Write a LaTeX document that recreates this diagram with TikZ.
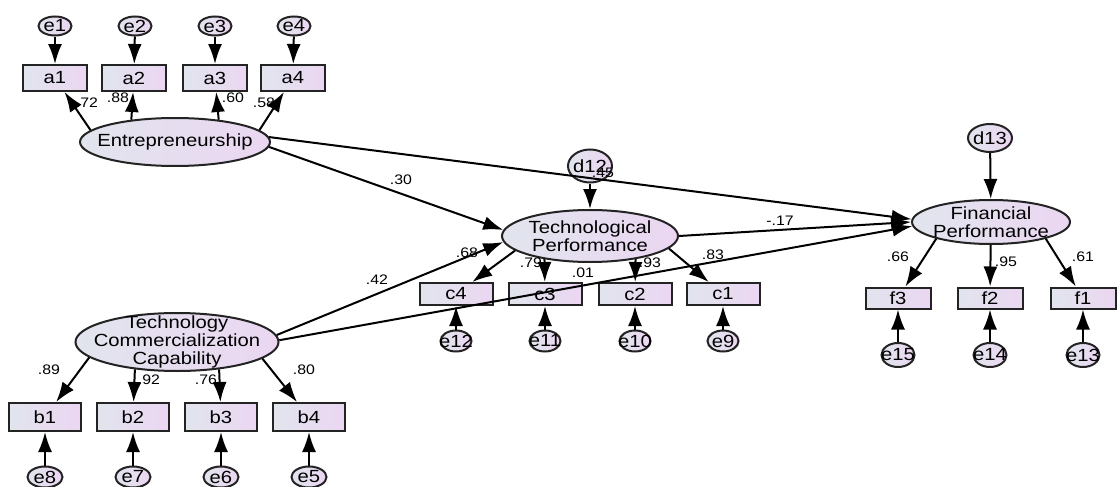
\documentclass[tikz,border=0pt]{standalone}
\usepackage{fontspec}
\setmainfont{Liberation Sans}[FakeStretch=1.15]
\usetikzlibrary{positioning,arrows.meta,shapes.geometric}
\definecolor{fillL}{RGB}{225,229,237}
\definecolor{fillR}{RGB}{235,214,242}
\definecolor{edgeC}{RGB}{35,35,35}

\begin{document}
\begin{tikzpicture}[
    x=0.5pt, y=-0.5pt,
    every node/.style={font=\fontsize{8.8}{9.2}\selectfont},
    obs/.style={rectangle, draw=edgeC, line width=1pt, left color=fillL,
                right color=fillR, minimum width=32pt, minimum height=13pt,
                inner sep=0pt},
    lat/.style={ellipse, draw=edgeC, line width=1pt, left color=fillL,
                right color=fillR, inner sep=0pt,
                label={[align=center]center:#1}},
    err/.style={ellipse, draw=edgeC, line width=1pt, left color=fillL,
                right color=fillR, minimum width=16.5pt, minimum height=10.5pt,
                inner sep=0pt, label={center:#1}},
    num/.style={font=\fontsize{6.9}{7}\selectfont, inner sep=0pt},
    arr/.style={-{Latex[length=10pt,width=7pt]}, line width=1pt},
]
    \useasboundingbox (0,0) rectangle (1120,487);

    %% latent variables
    \node[lat={Entrepreneurship}, minimum width=95pt, minimum height=24pt]
        (ent) at (175,142) {};
    \node[lat={Technological\\Performance}, minimum width=88pt,
          minimum height=26pt] (tp) at (590,236) {};
    \node[lat={Financial\\Performance}, minimum width=79pt,
          minimum height=22pt] (fp) at (991,222) {};
    \node[lat={Technology\\Commercialization\\Capability},
          minimum width=101.5pt, minimum height=29pt] (tcc) at (177,342) {};

    %% disturbances
    \node[err=d12, minimum width=22pt, minimum height=16.5pt] (d12) at (590,166) {};
    \node[err=d13, minimum width=22pt, minimum height=14pt] (d13) at (990,138) {};

    %% indicators of Entrepreneurship
    \node[obs] (a1) at (55,78) {a1};
    \node[obs] (a2) at (134,78) {a2};
    \node[obs] (a3) at (215,78) {a3};
    \node[obs] (a4) at (293,78) {a4};
    \node[err=e1, minimum height=9.5pt] (e1) at (55,26) {};
    \node[err=e2, minimum height=9.5pt] (e2) at (135,26) {};
    \node[err=e3, minimum height=9.5pt] (e3) at (215,26) {};
    \node[err=e4, minimum height=9.5pt] (e4) at (294,26) {};

    %% indicators of Technological Performance
    \node[obs, minimum width=36.5pt, minimum height=11pt] (c4) at (456,294) {c4};
    \node[obs, minimum width=36.5pt, minimum height=11pt] (c3) at (545,294) {c3};
    \node[obs, minimum width=36.5pt, minimum height=11pt] (c2) at (635,294) {c2};
    \node[obs, minimum width=36.5pt, minimum height=11pt] (c1) at (723,294) {c1};
    \node[err=e12, minimum width=15.5pt] (e12) at (456,341) {};
    \node[err=e11, minimum width=15.5pt] (e11) at (545,341) {};
    \node[err=e10, minimum width=15.5pt] (e10) at (635,341) {};
    \node[err=e9, minimum width=15.5pt] (e9) at (723,341) {};

    %% indicators of Financial Performance
    \node[obs, minimum width=32.5pt, minimum height=10.5pt] (f3) at (898,298) {f3};
    \node[obs, minimum width=32.5pt, minimum height=10.5pt] (f2) at (990,298) {f2};
    \node[obs, minimum width=32.5pt, minimum height=10.5pt] (f1) at (1083,298) {f1};
    \node[err=e15, minimum height=12pt] (e15) at (898,355) {};
    \node[err=e14, minimum height=12pt] (e14) at (990,355) {};
    \node[err=e13, minimum height=12pt] (e13) at (1083,355) {};

    %% indicators of Technology Commercialization Capability
    \node[obs, minimum width=36pt, minimum height=14pt] (b1) at (45,417) {b1};
    \node[obs, minimum width=36pt, minimum height=14pt] (b2) at (133,417) {b2};
    \node[obs, minimum width=36pt, minimum height=14pt] (b3) at (221,417) {b3};
    \node[obs, minimum width=36pt, minimum height=14pt] (b4) at (309,417) {b4};
    \node[err=e8, minimum width=17.5pt] (e8) at (45,477) {};
    \node[err=e7, minimum width=17.5pt] (e7) at (133,477) {};
    \node[err=e6, minimum width=17.5pt] (e6) at (221,477) {};
    \node[err=e5, minimum width=17.5pt] (e5) at (309,477) {};

    %% measurement arrows
    \draw[arr] (e1) -- (a1);
    \draw[arr] (e2) -- (a2);
    \draw[arr] (e3) -- (a3);
    \draw[arr] (e4) -- (a4);
    \draw[arr] (ent.172) -- (a1);
    \draw[arr] (ent.153) -- (a2);
    \draw[arr] (ent.27) -- (a3);
    \draw[arr] (ent.8) -- (a4);

    \draw[arr] (tp.191) -- (c4);
    \draw[arr] (tp.207) -- (c3);
    \draw[arr] (tp.333) -- (c2);
    \draw[arr] (tp.351) -- (c1);
    \draw[arr] (e12) -- (c4);
    \draw[arr] (e11) -- (c3);
    \draw[arr] (e10) -- (c2);
    \draw[arr] (e9) -- (c1);

    \draw[arr] (fp.197) -- (f3);
    \draw[arr] (fp) -- (f2);
    \draw[arr] (fp.343) -- (f1);
    \draw[arr] (e15) -- (f3);
    \draw[arr] (e14) -- (f2);
    \draw[arr] (e13) -- (f1);

    \draw[arr] (tcc.190) -- (b1);
    \draw[arr] (tcc.213) -- (b2);
    \draw[arr] (tcc.327) -- (b3);
    \draw[arr] (tcc.349) -- (b4);
    \draw[arr] (e8) -- (b1);
    \draw[arr] (e7) -- (b2);
    \draw[arr] (e6) -- (b3);
    \draw[arr] (e5) -- (b4);

    %% structural paths
    \draw[arr] (d12) -- (tp);
    \draw[arr] (d13) -- (fp);
    \draw[arr] (ent.3) -- (fp.178);
    \draw[arr] (ent.357) -- (tp.176);
    \draw[arr] (tcc.4) -- (tp.184);
    \draw[arr] (tcc.1) -- (fp.183);
    \draw[arr] (tp.east) -- (fp.west);

    %% estimates
    \node[num] (n72) at (87,103) {.72};
    \node[num] (n88) at (118,98) {.88};
    \node[num] (n60) at (233,98) {.60};
    \node[num] (n58) at (264,103) {.58};
    \node[num] (n30) at (401,180) {.30};
    \node[num] (n45) at (603,173) {.45};
    \node[num] (n68) at (467,253) {.68};
    \node[num] (n42) at (377,280) {.42};
    \node[num] (n79) at (531,263) {.79};
    \node[num] (n93) at (650,263) {.93};
    \node[num] (n01) at (583,273) {.01};
    \node[num] (n83) at (713,255) {.83};
    \node[num] (n17) at (780,221) {-.17};
    \node[num] (n66) at (898,257) {.66};
    \node[num] (n95) at (1006,262) {.95};
    \node[num] (n61) at (1083,257) {.61};
    \node[num] (n89) at (49,370) {.89};
    \node[num] (n92) at (149,380) {.92};
    \node[num] (n76) at (206,380) {.76};
    \node[num] (n80) at (304,370) {.80};
\end{tikzpicture}
\end{document}
